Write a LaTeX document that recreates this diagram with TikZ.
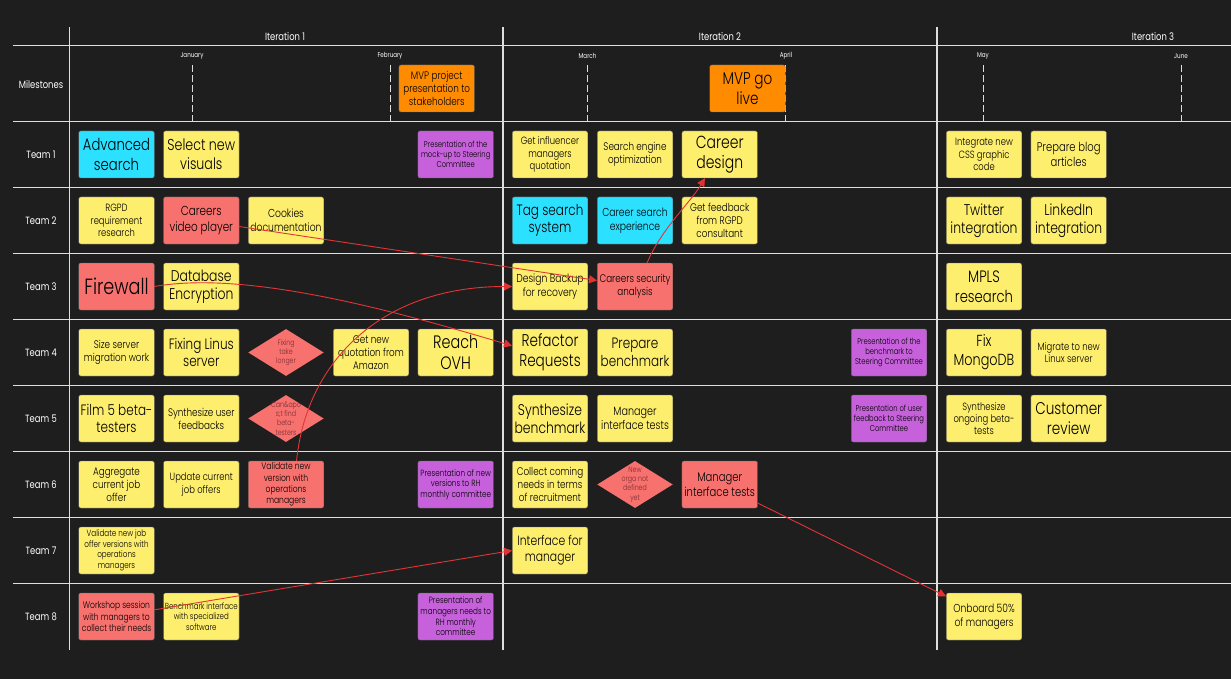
\documentclass[tikz,border=0pt]{standalone}
\usepackage{fontspec}
\setmainfont{Poppins Light}[FakeStretch=0.8]
\newfontfamily\labf{Poppins}[FakeStretch=0.8]
\usetikzlibrary{arrows.meta,shapes.geometric}
\definecolor{bgc}{HTML}{1E1E1E}
\definecolor{gridc}{HTML}{DEDEDE}
\definecolor{yel}{HTML}{FEEE6D}
\definecolor{rdc}{HTML}{F7716E}
\definecolor{cyn}{HTML}{2BE1FF}
\definecolor{pur}{HTML}{C661DB}
\definecolor{org}{HTML}{FF8C00}
\definecolor{lnk}{HTML}{E23535}
\definecolor{dtxt}{HTML}{7A2C33}
\newcommand\fsz[1]{\fontsize{#1}{\dimexpr #1pt*118/100\relax}\selectfont}
\tikzset{
  x=1pt,y=-1pt,
  gridline/.style={draw=gridc,line width=1.6pt},
  monthline/.style={draw=gridc,line width=1pt,dash pattern=on 7pt off 3pt},
  card/.style={rectangle,rounded corners=2pt,draw=black!60,line width=.4pt,minimum width=75.5pt,minimum height=47pt,inner sep=0pt,align=center,text=black},
  yc/.style={card,fill=yel},
  rc/.style={card,fill=rdc},
  cc/.style={card,fill=cyn},
  pc/.style={card,fill=pur},
  oc/.style={card,fill=org},
  dia/.style={diamond,aspect=1.6,fill=rdc,minimum width=75.5pt,minimum height=47pt,inner sep=0pt},
  dlab/.style={text=dtxt,align=center,font=\fsz{7.8}},
  lab/.style={text=white,align=center,inner sep=0pt},
  conn/.style={draw=lnk,line width=.9pt,-{Triangle[length=8pt,width=8pt,fill=lnk!90!red]}},
}
\begin{document}
\begin{tikzpicture}
\useasboundingbox (0,0) rectangle (1231,679);
\fill[bgc] (0,0) rectangle (1231,679);
% grid
\foreach \yy in {45.7,121.5,187.4,253.4,319.4,385.4,451.4,517.4,583.4}{\draw[gridline] (13,\yy) -- (1231,\yy);}
\foreach \xx in {69.3,503,937}{\draw[gridline] (\xx,27) -- (\xx,650);}
% month dashes
\foreach \xx in {192,390,587.5,785.5,983,1181}{\draw[monthline] (\xx,65) -- (\xx,121);}
% headers
\node[lab,font=\labf\fsz{10.5}] (it1) at (285,37) {Iteration 1};
\node[lab,font=\labf\fsz{10.5}] (it2) at (720,37) {Iteration 2};
\node[lab,font=\labf\fsz{10.5}] (it3) at (1153,37) {Iteration 3};
\node[lab,font=\labf\fsz{7}] (m1) at (192,56) {January};
\node[lab,font=\labf\fsz{7}] (m2) at (390,56) {February};
\node[lab,font=\labf\fsz{7}] (m3) at (587.5,56) {March};
\node[lab,font=\labf\fsz{7}] (m4) at (786,56) {April};
\node[lab,font=\labf\fsz{7}] (m5) at (983,56) {May};
\node[lab,font=\labf\fsz{7}] (m6) at (1181,56) {June};
\node[lab,font=\labf\fsz{10.5}] (ms) at (41,84.5) {Milestones};
\node[lab,font=\labf\fsz{10.5}] (t1) at (41,154.5) {Team 1};
\node[lab,font=\labf\fsz{10.5}] (t2) at (41,220.5) {Team 2};
\node[lab,font=\labf\fsz{10.5}] (t3) at (41,286.5) {Team 3};
\node[lab,font=\labf\fsz{10.5}] (t4) at (41,352.5) {Team 4};
\node[lab,font=\labf\fsz{10.5}] (t5) at (41,418.5) {Team 5};
\node[lab,font=\labf\fsz{10.5}] (t6) at (41,484.5) {Team 6};
\node[lab,font=\labf\fsz{10.5}] (t7) at (41,550.5) {Team 7};
\node[lab,font=\labf\fsz{10.5}] (t8) at (41,616.5) {Team 8};
% milestones
\node[oc,font=\fsz{11}] (mvpa) at (436.7,88.5) {MVP project\\presentation to\\stakeholders};
\node[oc,font=\fsz{17}] (mvpb) at (747.5,88.5) {MVP go\\live};
% team 1
\node[cc,font=\fsz{16.5}] (a1) at (116.5,154.5) {Advanced\\search};
\node[yc,font=\fsz{15.8}] (a2) at (201.3,154.5) {Select new\\visuals};
\node[pc,font=\fsz{8.5}] (a5) at (455.7,154.5) {Presentation of the\\mock-up to Steering\\Committee};
\node[yc,font=\fsz{10.5}] (a6) at (550,154.5) {Get influencer\\managers\\quotation};
\node[yc,font=\fsz{11}] (a7) at (635,154.5) {Search engine\\optimization};
\node[yc,font=\fsz{17.5}] (a8) at (719.7,154.5) {Career\\design};
\node[yc,font=\fsz{10.5}] (a10) at (984,154.5) {Integrate new\\CSS graphic\\code};
\node[yc,font=\fsz{12.5}] (a11) at (1068.7,154.5) {Prepare blog\\articles};
% team 2
\node[yc,font=\fsz{10.5}] (b1) at (116.5,220.5) {RGPD\\requirement\\research};
\node[rc,font=\fsz{13}] (b2) at (201.3,220.5) {Careers\\video player};
\node[yc,font=\fsz{11.5}] (b3) at (286,220.5) {Cookies\\documentation};
\node[cc,font=\fsz{15}] (b6) at (550,220.5) {Tag search\\system};
\node[cc,font=\fsz{11.5}] (b7) at (635,220.5) {Career search\\experience};
\node[yc,font=\fsz{11}] (b8) at (719.7,220.5) {Get feedback\\from RGPD\\consultant};
\node[yc,font=\fsz{15.5}] (b10) at (984,220.5) {Twitter\\integration};
\node[yc,font=\fsz{15.5}] (b11) at (1068.7,220.5) {LinkedIn\\integration};
% team 3
\node[rc,font=\fsz{22}] (c1) at (116.5,286.5) {Firewall};
\node[yc,font=\fsz{15.5}] (c2) at (201.3,286.5) {Database\\Encryption};
\node[yc,font=\fsz{11.5}] (c6) at (550,286.5) {Design Backup\\for recovery};
\node[rc,font=\fsz{11}] (c7) at (635,286.5) {Careers security\\analysis};
\node[yc,font=\fsz{16.5}] (c10) at (984,286.5) {MPLS\\research};
% team 4
\node[yc,font=\fsz{11}] (d1) at (116.5,352.5) {Size server\\migration work};
\node[yc,font=\fsz{15}] (d2) at (201.3,352.5) {Fixing Linus\\server};
\node[dia,label={[dlab]center:Fixing\\take\\longer}] (d3) at (286,352.5) {};
\node[yc,font=\fsz{11}] (d4) at (371,352.5) {Get new\\quotation from\\Amazon};
\node[yc,font=\fsz{18}] (d5) at (455.7,352.5) {Reach\\OVH};
\node[yc,font=\fsz{17}] (d6) at (550,352.5) {Refactor\\Requests};
\node[yc,font=\fsz{15}] (d7) at (635,352.5) {Prepare\\benchmark};
\node[pc,font=\fsz{8.5}] (d9) at (889,352.5) {Presentation of the\\benchmark to\\Steering Committee};
\node[yc,font=\fsz{16}] (d10) at (984,352.5) {Fix\\MongoDB};
\node[yc,font=\fsz{10.5}] (d11) at (1068.7,352.5) {Migrate to new\\Linux server};
% team 5
\node[yc,font=\fsz{15}] (e1) at (116.5,418.5) {Film 5 beta-\\testers};
\node[yc,font=\fsz{11}] (e2) at (201.3,418.5) {Synthesize user\\feedbacks};
\node[dia,label={[dlab]center:Can\&apo\\s;t find\\beta-\\testers}] (e3) at (286,418.5) {};
\node[yc,font=\fsz{15.5}] (e6) at (550,418.5) {Synthesize\\benchmark};
\node[yc,font=\fsz{12}] (e7) at (635,418.5) {Manager\\interface tests};
\node[pc,font=\fsz{8.5}] (e9) at (889,418.5) {Presentation of user\\feedback to Steering\\Committee};
\node[yc,font=\fsz{10.5}] (e10) at (984,418.5) {Synthesize\\ongoing beta-\\tests};
\node[yc,font=\fsz{17}] (e11) at (1068.7,418.5) {Customer\\review};
% team 6
\node[yc,font=\fsz{11}] (f1) at (116.5,484.5) {Aggregate\\current job\\offer};
\node[yc,font=\fsz{10.5}] (f2) at (201.3,484.5) {Update current\\job offers};
\node[rc,font=\fsz{9.5}] (f3) at (286,484.5) {Validate new\\version with\\operations\\managers};
\node[pc,font=\fsz{9}] (f5) at (455.7,484.5) {Presentation of new\\versions to RH\\monthly committee};
\node[yc,font=\fsz{11}] (f6) at (550,484.5) {Collect coming\\needs in terms\\of recruitment};
\node[dia,label={[dlab]center:New\\orga not\\defined\\yet}] (f7) at (635,484.5) {};
\node[rc,font=\fsz{12.5}] (f8) at (719.7,484.5) {Manager\\interface tests};
% team 7
\node[yc,font=\fsz{9}] (g1) at (116.5,550.5) {Validate new job\\offer versions with\\operations\\managers};
\node[yc,font=\fsz{13.5}] (g6) at (550,550.5) {Interface for\\manager};
% team 8
\node[rc,font=\fsz{9.5}] (h1) at (116.5,616.5) {Workshop session\\with managers to\\collect their needs};
\node[yc,font=\fsz{8.8}] (h2) at (201.3,616.5) {Benchmark interface\\with specialized\\software};
\node[pc,font=\fsz{9}] (h5) at (455.7,616.5) {Presentation of\\managers needs to\\RH monthly\\committee};
\node[yc,font=\fsz{11.5}] (h10) at (984,616.5) {Onboard 50\%\\of managers};
% connectors
\draw[conn] (b2.-9) -- (c7.171);
\draw[conn] (c1.east) .. controls +(85,-15) and +(-140,-42) .. (d6.170);
\draw[conn] (f3.66) .. controls +(10,-100) and +(-130,0) .. (c6.west);
\draw[conn] (c7.63) .. controls +(15,-35) and +(-15,25) .. (a8.-122);
\draw[conn] (f8.-26) -- (h10.152);
\draw[conn] (h1.10) -- (g6.west);
\end{tikzpicture}
\end{document}
